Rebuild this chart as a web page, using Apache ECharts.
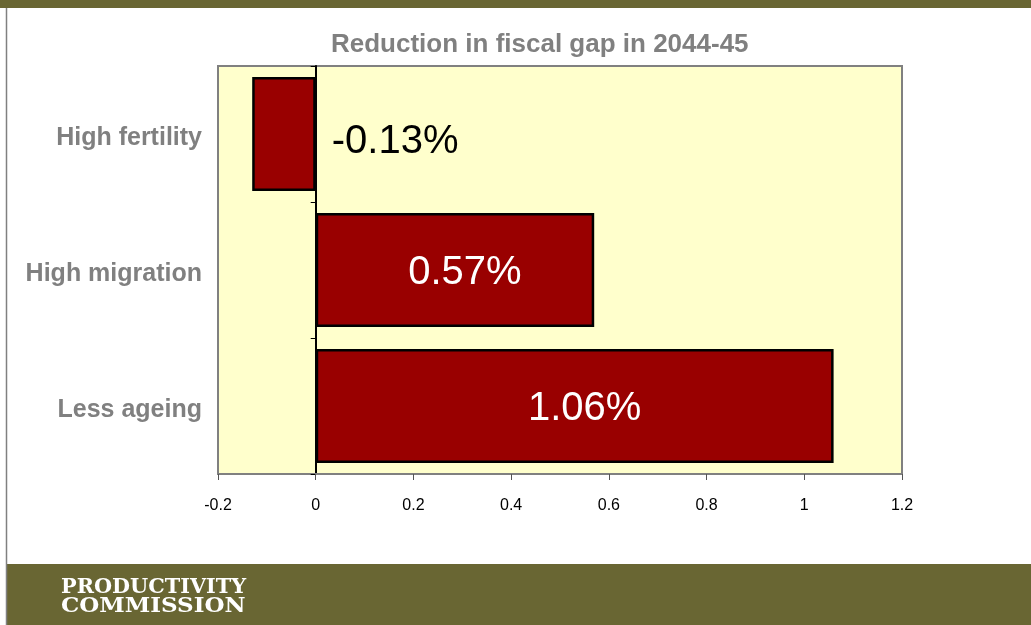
<!DOCTYPE html>
<html>
<head>
<meta charset="utf-8">
<script src="https://cdn.jsdelivr.net/npm/echarts@6/dist/echarts.min.js"></script>
<style>
  html, body { margin: 0; padding: 0; background: #ffffff; }
  #chart { width: 1031px; height: 625px; }
</style>
</head>
<body>
<div id="chart"></div>
<script>
// Scenario categories (top to bottom) and their fiscal gap reduction, % of GDP
const categories = ['High fertility', 'High migration', 'Less ageing'];
const reductionValues = [-0.13, 0.57, 1.06];
const xTicks = { min: -0.2, max: 1.2, step: 0.2 };

const SANS = 'Arial, "Liberation Sans", sans-serif';
const OLIVE = '#696633';
const GREY = '#808080';

const chart = echarts.init(document.getElementById('chart'), null, { renderer: 'canvas' });

const barData = reductionValues.map(v => {
  if (v < 0) {
    return {
      value: v,
      label: { position: 'right', distance: 16, color: '#000000', offset: [0, 8] }
    };
  }
  return { value: v };
});

chart.setOption({
  backgroundColor: '#ffffff',
  animation: false,
  title: {
    text: 'Reduction in fiscal gap in 2044-45',
    left: 326,
    top: 27,
    textStyle: { fontFamily: SANS, fontSize: 26, fontWeight: 'bold', color: GREY }
  },
  grid: {
    left: 218,
    right: 129,
    top: 66,
    bottom: 151,
    show: true,
    backgroundColor: '#FFFFCC',
    borderColor: GREY,
    borderWidth: 2
  },
  xAxis: {
    type: 'value',
    min: xTicks.min,
    max: xTicks.max,
    interval: xTicks.step,
    splitLine: { show: false },
    axisLine: { show: true, onZero: false, lineStyle: { color: GREY, width: 2 } },
    axisTick: { show: true, length: 6, lineStyle: { color: '#555555', width: 1 } },
    axisLabel: {
      margin: 24,
      fontFamily: SANS,
      fontSize: 16,
      color: '#000000',
      formatter: v => String(Math.round(v * 10) / 10)
    }
  },
  yAxis: [
    {
      type: 'category',
      data: categories,
      inverse: true,
      position: 'left',
      axisLine: { show: false, onZero: false },
      axisTick: { show: false },
      axisLabel: {
        margin: 16,
        fontFamily: SANS,
        fontSize: 25,
        fontWeight: 'bold',
        color: GREY,
        formatter: v => '{c|' + v + '}',
        rich: { c: { fontFamily: SANS, fontSize: 25, fontWeight: 'bold', color: GREY, padding: [8, 0, 0, 0] } }
      }
    },
    {
      type: 'category',
      data: categories,
      inverse: true,
      position: 'left',
      axisLine: { show: true, onZero: true, lineStyle: { color: '#000000', width: 2 } },
      axisTick: { show: true, length: 5, lineStyle: { color: '#000000', width: 1 } },
      axisLabel: { show: false }
    }
  ],
  series: [
    {
      type: 'bar',
      yAxisIndex: 0,
      data: barData,
      barCategoryGap: '16%',
      itemStyle: { color: '#990000', borderColor: '#000000', borderWidth: 2.5 },
      label: {
        show: true,
        position: 'inside',
        offset: [10, 3],
        fontFamily: SANS,
        fontSize: 40,
        color: '#ffffff',
        formatter: p => p.value.toFixed(2) + '%'
      }
    }
  ],
  graphic: [
    { type: 'rect', left: 0, top: 0, shape: { width: 1031, height: 8 }, style: { fill: OLIVE }, silent: true },
    { type: 'rect', left: 7, top: 564, shape: { width: 1024, height: 61 }, style: { fill: OLIVE }, silent: true },
    { type: 'line', shape: { x1: 6.5, y1: 8, x2: 6.5, y2: 625 }, style: { stroke: GREY, lineWidth: 1.5 }, silent: true },
    {
      type: 'text', x: 61, y: 578,
      style: { text: 'PRODUCTIVITY', fill: '#ffffff', font: 'bold 20px "DejaVu Serif", serif' },
      scaleX: 1.04, silent: true
    },
    {
      type: 'text', x: 61, y: 597,
      style: { text: 'COMMISSION', fill: '#ffffff', font: 'bold 20px "DejaVu Serif", serif' },
      scaleX: 1.15, silent: true
    }
  ]
});
</script>
</body>
</html>
